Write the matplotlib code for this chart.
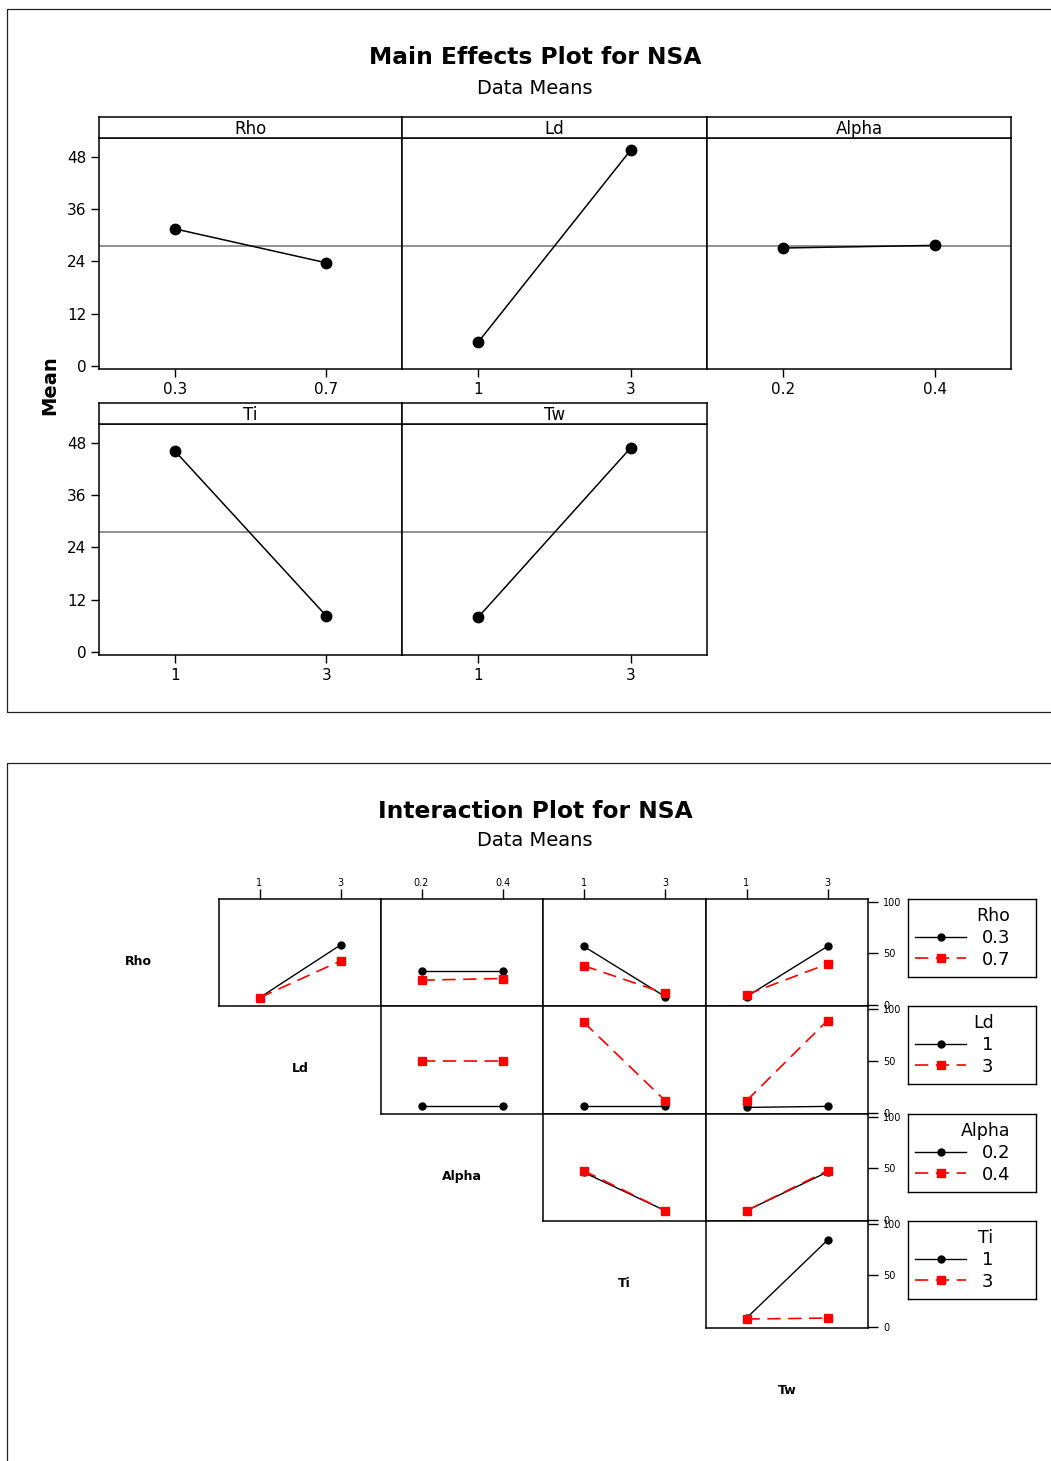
import matplotlib
matplotlib.use('Agg')
import matplotlib.pyplot as plt
from matplotlib.patches import Rectangle

plt.rcParams['font.family'] = ['DejaVu Sans']

W, H = 1051, 1461

# factor levels
rho_levels = [0.3, 0.7]
ld_levels = [1, 3]
alpha_levels = [0.2, 0.4]
ti_levels = [1, 3]
tw_levels = [1, 3]

# main effects (data means)
rho_means = [31.5, 23.7]
ld_means = [5.5, 49.6]
alpha_means = [27.1, 27.7]
ti_means = [46.2, 8.3]
tw_means = [8.0, 46.9]
grand_mean = 27.5

# interaction means: [first level of row factor, second level of row factor]
rho_ld = [[7.0, 58.0], [7.0, 42.6]]
rho_alpha = [[32.7, 32.7], [24.0, 25.6]]
rho_ti = [[56.7, 8.0], [38.0, 11.2]]
rho_tw = [[8.0, 56.7], [10.0, 39.7]]
ld_alpha = [[6.3, 6.3], [50.2, 50.2]]
ld_ti = [[6.3, 6.3], [87.0, 11.7]]
ld_tw = [[5.3, 6.3], [11.7, 88.6]]
alpha_ti = [[46.0, 9.0], [47.6, 9.0]]
alpha_tw = [[9.0, 46.4], [9.0, 47.6]]
ti_tw = [[8.6, 84.0], [7.7, 8.6]]

factors = ['Rho', 'Ld', 'Alpha', 'Ti', 'Tw']
level_map = {'Rho': rho_levels, 'Ld': ld_levels, 'Alpha': alpha_levels,
             'Ti': ti_levels, 'Tw': tw_levels}
main_map = {'Rho': rho_means, 'Ld': ld_means, 'Alpha': alpha_means,
            'Ti': ti_means, 'Tw': tw_means}
inter = {('Rho', 'Ld'): rho_ld, ('Rho', 'Alpha'): rho_alpha, ('Rho', 'Ti'): rho_ti,
         ('Rho', 'Tw'): rho_tw, ('Ld', 'Alpha'): ld_alpha, ('Ld', 'Ti'): ld_ti,
         ('Ld', 'Tw'): ld_tw, ('Alpha', 'Ti'): alpha_ti, ('Alpha', 'Tw'): alpha_tw,
         ('Ti', 'Tw'): ti_tw}


def fbox(x0, y0, x1, y1):
    # pixel box (top-left origin) -> figure fraction
    return [x0 / W, 1 - y1 / H, (x1 - x0) / W, (y1 - y0) / H]


def lv_xlim(lv):
    d = lv[1] - lv[0]
    return lv[0] - d / 2, lv[1] + d / 2


def style_spines(ax, lw=1.1):
    for s in ax.spines.values():
        s.set_linewidth(lw)
        s.set_color('black')


fig = plt.figure(figsize=(W / 100, H / 100), dpi=100)

# outer frames
fig.add_artist(Rectangle((7 / W, 1 - 712 / H), (1070 - 7) / W, (712 - 9) / H,
                         transform=fig.transFigure, fill=False, lw=0.9, ec='#222222'))
fig.add_artist(Rectangle((7 / W, 1 - 1480 / H), (1070 - 7) / W, (1480 - 763) / H,
                         transform=fig.transFigure, fill=False, lw=0.9, ec='#222222'))

# ---------------- main effects ----------------
fig.text(535 / W, 1 - 58 / H, 'Main Effects Plot for NSA', ha='center', va='center',
         fontsize=16.8, fontweight='bold')
fig.text(535 / W, 1 - 88 / H, 'Data Means', ha='center', va='center', fontsize=14)
fig.text(50 / W, 1 - 385 / H, 'Mean', ha='center', va='center', rotation=90,
         fontsize=14, fontweight='bold')

col_x = [99, 402, 707, 1011]
row_y = [(117, 138, 369), (403, 424, 655)]
for k, f in enumerate(factors):
    r, c = divmod(k, 3)
    ys, y0, y1 = row_y[r]
    x0, x1 = col_x[c], col_x[c + 1]
    ax = fig.add_axes(fbox(x0, y0, x1, y1))
    lv = level_map[f]
    ax.axhline(grand_mean, color='#7f7f7f', lw=1.2, zorder=1)
    ax.plot(lv, main_map[f], color='black', marker='o', ms=7.5, lw=1.1, zorder=3)
    ax.set_xlim(*lv_xlim(lv))
    ax.set_ylim(-0.69, 52.36)
    ax.set_xticks(lv, [str(v) for v in lv])
    ax.set_yticks([0, 12, 24, 36, 48])
    ax.tick_params(axis='both', length=6, width=1, labelsize=11, pad=3)
    if c != 0:
        ax.tick_params(axis='y', left=False, labelleft=False)
    style_spines(ax)
    sax = fig.add_axes(fbox(x0, ys, x1, y0))
    sax.set_xticks([])
    sax.set_yticks([])
    style_spines(sax)
    sax.text(0.5, 0.45, f, ha='center', va='center', fontsize=12, transform=sax.transAxes)

# ---------------- interaction plot ----------------
fig.text(535 / W, 1 - 811 / H, 'Interaction Plot for NSA', ha='center', va='center',
         fontsize=16.8, fontweight='bold')
fig.text(535 / W, 1 - 841 / H, 'Data Means', ha='center', va='center', fontsize=14)

cx = [219, 381, 543, 706, 868]
ry = [899, 1006, 1114, 1221, 1328]
leg_y = [(899, 977), (1006, 1084), (1114, 1192), (1221, 1299)]

for i in range(4):
    rf = factors[i]
    handles = None
    for j in range(i, 4):
        cf = factors[j + 1]
        vals = inter[(rf, cf)]
        lv = level_map[cf]
        ax = fig.add_axes(fbox(cx[j], ry[i], cx[j + 1], ry[i + 1]))
        h1, = ax.plot(lv, vals[0], color='black', marker='o', ms=5, lw=1.0, zorder=3)
        h2, = ax.plot(lv, vals[1], color='red', marker='s', ms=5.5, lw=1.2,
                      dashes=(8, 4.5), zorder=4)
        if handles is None:
            handles = [h1, h2]
        ax.set_xlim(*lv_xlim(lv))
        ax.set_ylim(-1, 102.5)
        ax.set_xticks(lv, [str(v) for v in lv])
        ax.set_yticks([0, 50, 100])
        ax.tick_params(axis='x', bottom=False, labelbottom=False,
                       top=(i == 0), labeltop=(i == 0), length=7, width=1,
                       labelsize=7, pad=1)
        ax.tick_params(axis='y', left=False, labelleft=False,
                       right=(j == 3), labelright=(j == 3), length=7, width=1,
                       labelsize=7, pad=4)
        style_spines(ax)

    # factor name on the diagonal
    dx0 = cx[i - 1] if i > 0 else 2 * cx[0] - cx[1]
    dx1 = cx[i]
    fig.text((dx0 + dx1) / 2 / W, 1 - ((ry[i] + ry[i + 1]) / 2 + 9) / H, rf,
             ha='center', va='center', fontsize=9, fontweight='bold')

    # legend box
    lax = fig.add_axes(fbox(908, leg_y[i][0], 1036, leg_y[i][1]))
    lax.set_xticks([])
    lax.set_yticks([])
    style_spines(lax, 1.0)
    lax.legend(handles, [str(v) for v in level_map[rf]], title=rf,
               loc='center left', bbox_to_anchor=(0, 0.5), borderaxespad=0,
               frameon=False, fontsize=13, title_fontsize=12.5,
               handlelength=2.8, handletextpad=0.9, labelspacing=0.2,
               borderpad=0.4, alignment='right')

fig.text(787 / W, 1 - 1391 / H, 'Tw', ha='center', va='center', fontsize=9,
         fontweight='bold')

fig.savefig('out.png', dpi=100)
